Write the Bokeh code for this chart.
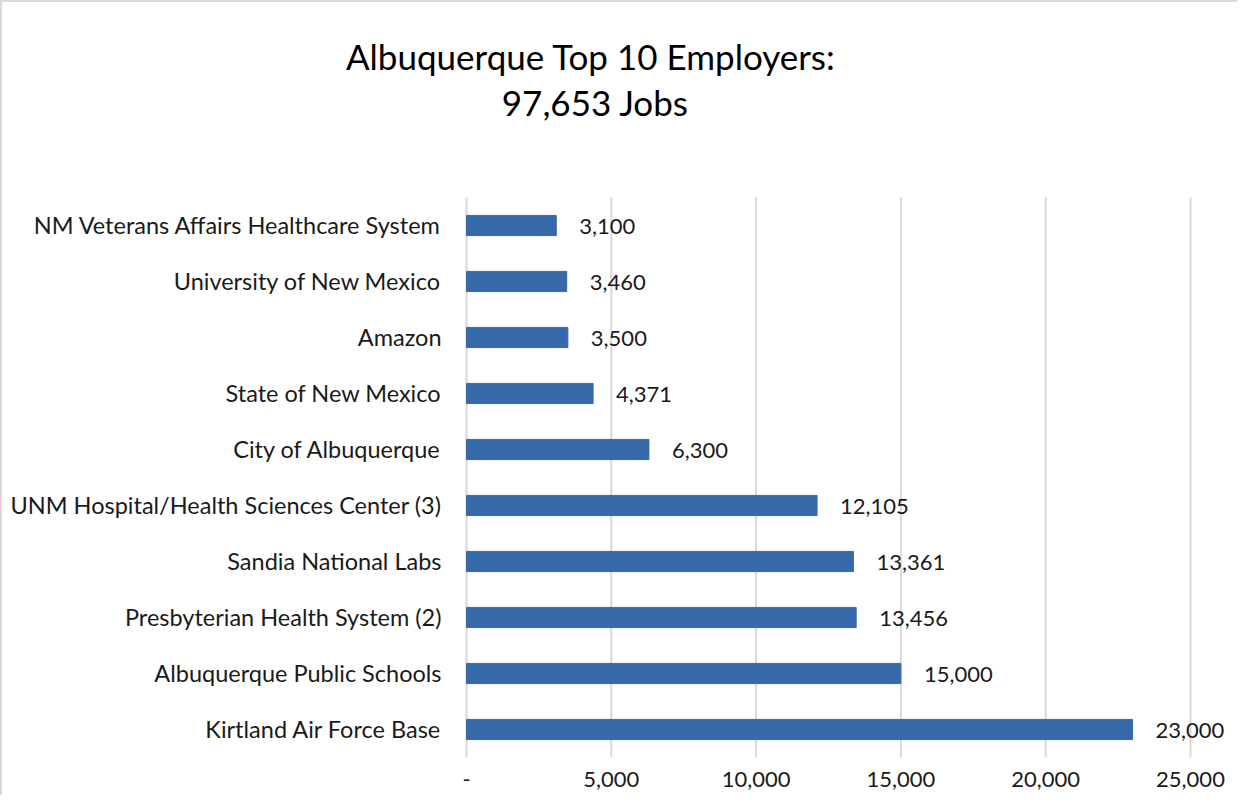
from bokeh.plotting import figure
from bokeh.models import ColumnDataSource, Range1d, FixedTicker, NumeralTickFormatter, LabelSet
from bokeh.core.properties import value
from bokeh.embed import file_html
from bokeh.resources import INLINE

employers = [
    "Kirtland Air Force Base",
    "Albuquerque Public Schools",
    "Presbyterian Health System (2)",
    "Sandia National Labs",
    "UNM Hospital/Health Sciences Center (3)",
    "City of Albuquerque",
    "State of New Mexico",
    "Amazon",
    "University of New Mexico",
    "NM Veterans Affairs Healthcare System",
]
jobs = [23000, 15000, 13456, 13361, 12105, 6300, 4371, 3500, 3460, 3100]
x_ticks = [0, 5000, 10000, 15000, 20000, 25000]
title_lines = ["Albuquerque  Top 10 Employers:", "97,653 Jobs"]

FONT = "Lato"
TXT = "#1a1a1a"
n = len(employers)
idx = list(range(n))
src = ColumnDataSource(dict(y=idx, jobs=jobs, name=employers, zero=[0] * n,
                            lbl=[f"{v:,}" for v in jobs]))

# value axis starts 464px into the canvas; 144.8 px per 5000, 56 px per category
W = 1237
px_per_unit = 144.8 / 5000
x_start = -464 / px_per_unit
x_end = 25000 + (W - 1188) / px_per_unit
y_top = -0.5 + 755 / 56.0

p = figure(width=W, height=795, output_backend="svg", toolbar_location=None,
           x_range=Range1d(x_start, x_end), y_range=Range1d(-0.5, y_top),
           min_border_left=0, min_border_right=0, min_border_top=0, min_border_bottom=40)
p.styles = {"border-left": "2px solid #d9d9d9", "border-top": "2px solid #d9d9d9"}
p.outline_line_color = None
p.background_fill_color = "white"
p.xgrid.grid_line_color = None
p.ygrid.grid_line_color = None
p.yaxis.visible = False

# vertical gridlines (incl. the category axis line at 0), limited to the category band
grid_src = ColumnDataSource(dict(x=x_ticks, y0=[-0.5] * len(x_ticks), y1=[n - 0.5] * len(x_ticks)))
p.segment(x0="x", x1="x", y0="y0", y1="y1", source=grid_src, line_color="#d9d9d9", line_width=2)

p.hbar(y="y", right="jobs", left=0, height=0.36, source=src, color="#3569AA")

# category labels
p.text(x="zero", y="y", text="name", source=src, x_offset=-25, y_offset=-1,
       text_align="right", text_baseline="middle", text_font=value(FONT),
       text_font_size="23.5px", text_color=TXT)

# value labels
labels = LabelSet(x="jobs", y="y", text="lbl", source=src, x_offset=23, y_offset=-1,
                  text_align="left", text_baseline="middle", text_font=value(FONT),
                  text_font_size="22px", text_color=TXT)
p.add_layout(labels)

# title
p.text(x=[4450, 4450], y=[12.02, 11.2], text=title_lines, text_align="center",
       text_baseline="middle", text_font=value(FONT), text_font_size="35px",
       text_color="#000000")

p.xaxis.ticker = FixedTicker(ticks=x_ticks)
p.xaxis.formatter = NumeralTickFormatter(format="0,0")
p.xaxis.major_label_overrides = {0: "-"}
p.xaxis.axis_line_color = None
p.xaxis.major_tick_line_color = None
p.xaxis.minor_tick_line_color = None
p.xaxis.major_label_standoff = 8
p.xaxis.major_label_text_font = FONT
p.xaxis.major_label_text_font_size = "22px"
p.xaxis.major_label_text_color = TXT

open("out.html", "w").write(file_html(p, INLINE))
